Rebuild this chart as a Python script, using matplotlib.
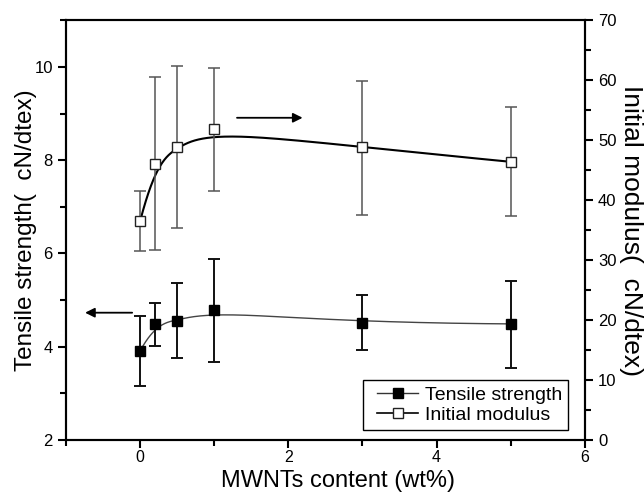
import numpy as np
import matplotlib
matplotlib.use('Agg')
import matplotlib.pyplot as plt
from matplotlib.lines import Line2D
from matplotlib.ticker import MultipleLocator

plt.rcParams['font.family'] = ['Liberation Sans', 'DejaVu Sans']

# ---- data ----
content = [0, 0.2, 0.5, 1, 3, 5]
tensile = [3.91, 4.49, 4.56, 4.78, 4.51, 4.49]
tensile_lo = [3.16, 4.02, 3.76, 3.68, 3.93, 3.54]
tensile_hi = [4.66, 4.94, 5.37, 5.89, 5.10, 5.41]
modulus = [36.5, 46.0, 48.9, 51.8, 48.8, 46.4]
modulus_lo = [31.6, 31.7, 35.4, 41.5, 37.6, 37.3]
modulus_hi = [41.5, 60.6, 62.4, 62.1, 59.9, 55.5]
x_ticks = [0, 2, 4, 6]
left_ticks = [2, 4, 6, 8, 10]
right_ticks = [0, 10, 20, 30, 40, 50, 60, 70]
series_names = ['Tensile strength', 'Initial modulus']


def bspline(px, py, n=400, k=3):
    px = np.asarray(px, float)
    py = np.asarray(py, float)
    m = len(px)
    knots = np.concatenate([np.zeros(k), np.linspace(0, 1, m - k + 1), np.ones(k)])
    t = np.linspace(0, 1, n)
    t[-1] -= 1e-9

    def basis(i, kk, tt):
        if kk == 0:
            return ((knots[i] <= tt) & (tt < knots[i + 1])).astype(float)
        d1 = knots[i + kk] - knots[i]
        d2 = knots[i + kk + 1] - knots[i + 1]
        a = (tt - knots[i]) / d1 * basis(i, kk - 1, tt) if d1 > 0 else 0.0
        b = (knots[i + kk + 1] - tt) / d2 * basis(i + 1, kk - 1, tt) if d2 > 0 else 0.0
        return a + b

    B = np.array([basis(i, k, t) for i in range(m)])
    return B.T @ px, B.T @ py


class OffsetLineHandler:
    """Line + centred marker, drawn with a left offset inside the handle box."""
    def __init__(self, offset):
        self.offset = offset

    def legend_artist(self, legend, orig_handle, fontsize, handlebox):
        xd, yd = handlebox.xdescent, handlebox.ydescent
        w, h = handlebox.width, handlebox.height
        x0 = -xd + self.offset
        x1 = -xd + w
        y = -yd + h / 2.0
        ln = Line2D([x0, x1], [y, y], color=orig_handle.get_color(),
                    lw=orig_handle.get_linewidth())
        mk = Line2D([(x0 + x1) / 2.0], [y], ls='none', marker='s',
                    ms=orig_handle.get_markersize(), mfc=orig_handle.get_markerfacecolor(),
                    mec=orig_handle.get_markeredgecolor(), mew=1.0)
        handlebox.add_artist(ln)
        handlebox.add_artist(mk)
        return ln


fig = plt.figure(figsize=(6.44, 4.92), dpi=100)
ax = fig.add_axes([0.1025, 0.1057, 0.8055, 0.853])
ax2 = ax.twinx()

# Tensile strength (left)
tx, ty = bspline(content, tensile)
ax.plot(tx, ty, color='#444444', lw=1.0, zorder=2)
t_err = [np.array(tensile) - np.array(tensile_lo), np.array(tensile_hi) - np.array(tensile)]
ax.errorbar(content, tensile, yerr=t_err, fmt='none', ecolor='#111111', elinewidth=1.4,
            capsize=4, capthick=1.4, zorder=3)
ax.plot(content, tensile, ls='none', marker='s', ms=6.5, mfc='black', mec='black', zorder=4)

# Initial modulus (right)
mx, my = bspline(content, modulus)
ax2.plot(mx, my, color='black', lw=1.5, zorder=2)
m_err = [np.array(modulus) - np.array(modulus_lo), np.array(modulus_hi) - np.array(modulus)]
ax2.errorbar(content, modulus, yerr=m_err, fmt='none', ecolor='#555555', elinewidth=1.1,
             capsize=4, capthick=1.1, zorder=3)
ax2.plot(content, modulus, ls='none', marker='s', ms=6.5, mfc='white', mec='#222222',
         mew=1.0, zorder=4)

# axes limits and ticks
ax.set_xlim(-1, 6)
ax.set_ylim(2, 11)
ax2.set_ylim(0, 70)
ax.set_xticks(x_ticks)
ax.set_yticks(left_ticks)
ax2.set_yticks(right_ticks)
ax.xaxis.set_minor_locator(MultipleLocator(1))
ax.yaxis.set_minor_locator(MultipleLocator(1))
ax2.yaxis.set_minor_locator(MultipleLocator(5))

for a in (ax, ax2):
    for s in a.spines.values():
        s.set_linewidth(1.5)
        s.set_color('black')
ax.tick_params(axis='both', which='major', direction='out', length=6, width=1.5,
               labelsize=12, top=False, right=False)
ax.tick_params(axis='x', which='major', labelsize=11.5, pad=1.5)
ax.tick_params(axis='both', which='minor', direction='out', length=4, width=1.5,
               top=False, right=False)
ax2.tick_params(axis='y', which='major', direction='out', length=6, width=1.5, labelsize=12)
ax2.tick_params(axis='y', which='minor', direction='out', length=4, width=1.5)

ax.set_xlabel('MWNTs content (wt%)', fontsize=17)
ax.xaxis.set_label_coords(0.525, -0.1238, transform=ax.transAxes)
ax.xaxis.label.set_va('bottom')
ax.set_ylabel('Tensile strength(  cN/dtex)', fontsize=17.5, labelpad=-2)
ax2.set_ylabel('Initial modulus(  cN/dtex)', fontsize=19, rotation=-90, labelpad=19)

# arrows
ax.annotate('', xy=(-0.78, 4.73), xytext=(-0.07, 4.73),
            arrowprops=dict(arrowstyle='-|>', color='black', lw=1.3, mutation_scale=14))
ax.annotate('', xy=(2.23, 8.91), xytext=(1.27, 8.91),
            arrowprops=dict(arrowstyle='-|>', color='black', lw=1.3, mutation_scale=14))

# legend
h1 = Line2D([], [], color='#333333', lw=1.0, marker='s', ms=6.5, mfc='black', mec='black')
h2 = Line2D([], [], color='black', lw=1.2, marker='s', ms=6.5, mfc='white', mec='#222222')
hm = {h1: OffsetLineHandler(6), h2: OffsetLineHandler(6)}
leg = ax2.legend([h1, h2], series_names, loc='lower right',
                 bbox_to_anchor=(0.967, 0.024), borderaxespad=0, fontsize=14,
                 fancybox=False, edgecolor='black', framealpha=1, handlelength=2.5,
                 handletextpad=0.35, labelspacing=0.15, borderpad=0.3,
                 handler_map=hm)
leg.get_frame().set_linewidth(1.0)

fig.savefig('out.png', dpi=100)
